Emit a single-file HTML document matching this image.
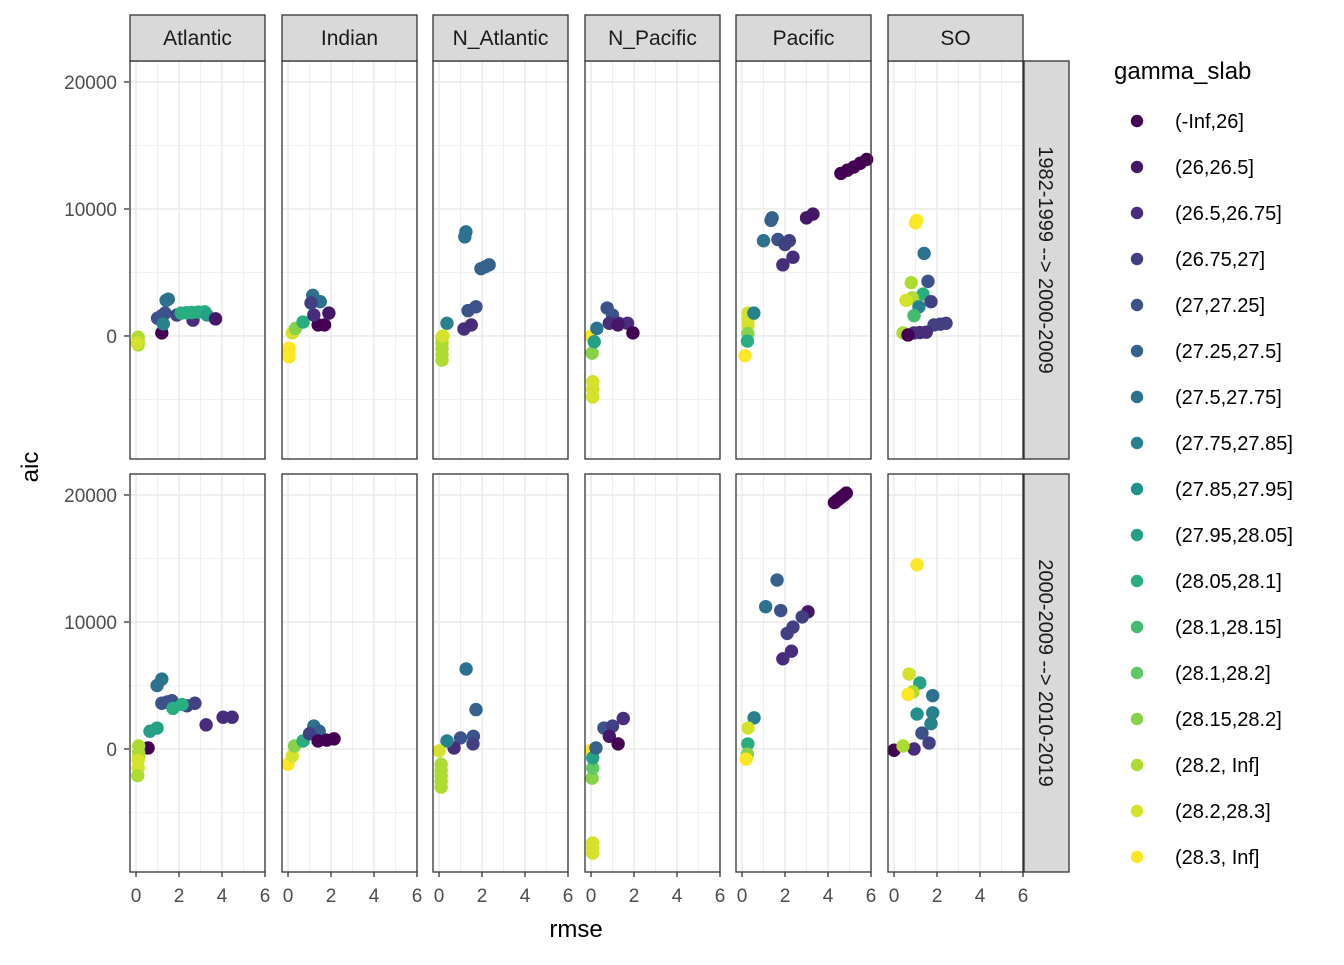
<!DOCTYPE html>
<html><head><meta charset="utf-8"><style>
html,body{margin:0;padding:0;background:#fff;}
svg text{font-family:"Liberation Sans",sans-serif;}
</style></head><body>
<svg id="chart" width="1344" height="960" xmlns="http://www.w3.org/2000/svg"></svg>
<script>
const basins = ["Atlantic","Indian","N_Atlantic","N_Pacific","Pacific","SO"];
const periods = ["1982-1999 --> 2000-2009","2000-2009 --> 2010-2019"];
const levels = ["(-Inf,26]","(26,26.5]","(26.5,26.75]","(26.75,27]","(27,27.25]","(27.25,27.5]","(27.5,27.75]","(27.75,27.85]","(27.85,27.95]","(27.95,28.05]","(28.05,28.1]","(28.1,28.15]","(28.1,28.2]","(28.15,28.2]","(28.2, Inf]","(28.2,28.3]","(28.3, Inf]"];
const xTicks = [0,2,4,6];
const yTicks = [0,10000,20000];
// points: [basinIndex, periodIndex, levelIndex, rmse, aic]
const points = [
[0,0,14,0.1,-100],[0,0,14,0.1,-400],[0,0,14,0.1,-700],[0,0,15,0.05,-550],[0,0,0,1.2,240],[0,0,6,1.5,2900],[0,0,6,1.4,2800],
[0,0,4,1.0,1400],[0,0,4,1.2,1600],[0,0,4,1.35,1800],[0,0,7,1.27,950],[0,0,3,1.9,1650],[0,0,2,2.65,1250],
[0,0,10,2.1,1800],[0,0,10,2.35,1830],[0,0,10,2.6,1850],[0,0,10,2.9,1880],[0,0,10,3.2,1900],[0,0,9,3.3,1650],[0,0,1,3.7,1350],
[1,0,16,0.05,-950],[1,0,16,0.05,-1300],[1,0,16,0.05,-1650],[1,0,15,0.2,240],[1,0,13,0.35,600],[1,0,10,0.7,1100],
[1,0,0,1.4,870],[1,0,0,1.7,870],[1,0,2,1.2,1650],[1,0,1,1.9,1800],[1,0,6,1.15,3200],[1,0,6,1.5,2700],[1,0,3,1.07,2600],
[2,0,6,1.25,8200],[2,0,6,1.2,7800],[2,0,5,1.95,5300],[2,0,5,2.15,5450],[2,0,5,2.33,5600],[2,0,4,1.35,2000],[2,0,4,1.72,2300],
[2,0,2,1.16,550],[2,0,2,1.5,870],[2,0,7,0.37,1000],[2,0,14,0.14,-100],[2,0,14,0.14,-550],[2,0,14,0.14,-1000],[2,0,14,0.14,-1450],[2,0,14,0.14,-1900],[2,0,15,0.18,0],
[3,0,16,0.0,0],[3,0,13,0.05,-1350],[3,0,15,0.08,-3600],[3,0,15,0.08,-4200],[3,0,15,0.08,-4800],[3,0,6,0.27,600],[3,0,9,0.15,-450],
[3,0,4,0.75,2200],[3,0,4,1.0,1650],[3,0,2,0.85,1000],[3,0,2,1.3,1000],[3,0,2,1.7,1000],[3,0,1,1.25,870],[3,0,0,1.95,240],
[4,0,0,4.6,12800],[4,0,0,4.9,13050],[4,0,0,5.2,13300],[4,0,0,5.5,13600],[4,0,0,5.8,13900],[4,0,1,3.0,9300],[4,0,1,3.3,9600],[4,0,5,1.35,9100],[4,0,5,1.4,9300],
[4,0,6,1.0,7500],[4,0,4,1.67,7600],[4,0,3,2.2,7500],[4,0,3,2.0,7200],[4,0,2,1.9,5600],[4,0,2,2.37,6200],
[4,0,15,0.28,1800],[4,0,15,0.28,1300],[4,0,15,0.28,870],[4,0,7,0.55,1800],[4,0,13,0.27,200],[4,0,10,0.25,-400],[4,0,16,0.14,-1550],
[5,0,16,1.0,8900],[5,0,16,1.05,9100],[5,0,6,1.4,6500],[5,0,14,0.8,4200],[5,0,4,1.58,4300],[5,0,10,1.35,3300],[5,0,3,1.72,2700],
[5,0,14,0.85,3000],[5,0,15,0.56,2800],[5,0,7,1.16,2300],[5,0,11,0.93,1600],[5,0,3,1.86,870],[5,0,3,2.15,930],[5,0,3,2.42,1000],
[5,0,2,0.93,240],[5,0,2,1.2,270],[5,0,2,1.5,300],[5,0,14,0.42,240],[5,0,0,0.65,80],
[0,1,6,1.2,5500],[0,1,6,0.98,5000],[0,1,4,1.2,3600],[0,1,4,1.45,3700],[0,1,4,1.67,3800],[0,1,3,2.74,3600],[0,1,3,2.37,3400],
[0,1,10,1.72,3200],[0,1,10,2.14,3500],[0,1,2,3.26,1900],[0,1,2,4.05,2500],[0,1,2,4.47,2500],[0,1,9,0.65,1400],[0,1,9,0.98,1650],
[0,1,0,0.56,80],[0,1,14,0.12,240],[0,1,14,0.12,-300],[0,1,14,0.12,-700],[0,1,15,0.1,-900],[0,1,15,0.1,-1500],[0,1,14,0.08,-2100],
[1,1,16,0.0,-1200],[1,1,15,0.2,-550],[1,1,13,0.3,240],[1,1,10,0.7,630],[1,1,6,1.2,1800],[1,1,5,1.45,1400],[1,1,3,1.0,1200],
[1,1,0,1.4,630],[1,1,0,1.8,700],[1,1,0,2.14,800],
[2,1,6,1.26,6300],[2,1,5,1.72,3100],[2,1,4,1.0,870],[2,1,4,1.6,1000],[2,1,3,1.58,400],[2,1,2,0.7,80],[2,1,7,0.37,630],
[2,1,15,0.0,-150],[2,1,14,0.1,-1200],[2,1,14,0.1,-1650],[2,1,14,0.1,-2100],[2,1,14,0.1,-2550],[2,1,14,0.1,-3000],
[3,1,16,0.0,-100],[3,1,15,0.08,-7400],[3,1,15,0.08,-7800],[3,1,15,0.08,-8200],[3,1,13,0.05,-2300],[3,1,12,0.08,-1500],[3,1,9,0.08,-700],
[3,1,5,0.23,80],[3,1,4,0.6,1650],[3,1,2,1.5,2400],[3,1,3,1.0,1800],[3,1,1,0.85,1000],[3,1,0,1.26,400],
[4,1,0,4.3,19400],[4,1,0,4.45,19600],[4,1,0,4.6,19800],[4,1,0,4.75,20000],[4,1,0,4.85,20150],[4,1,5,1.63,13300],[4,1,6,1.1,11200],[4,1,4,1.8,10900],
[4,1,1,3.07,10800],[4,1,3,2.8,10400],[4,1,3,2.37,9600],[4,1,3,2.1,9100],[4,1,2,2.3,7700],[4,1,2,1.9,7100],
[4,1,7,0.56,2450],[4,1,15,0.28,1650],[4,1,10,0.27,400],[4,1,13,0.25,-400],[4,1,16,0.19,-800],
[5,1,16,1.07,14500],[5,1,15,0.7,5900],[5,1,9,1.2,5200],[5,1,14,0.88,4500],[5,1,16,0.65,4300],[5,1,6,1.8,4200],
[5,1,8,1.07,2750],[5,1,7,1.8,2850],[5,1,7,1.72,2000],[5,1,4,1.3,1250],[5,1,3,1.63,470],[5,1,2,0.93,0],
[5,1,0,0.0,-100],[5,1,14,0.42,240]
];

const vir = ["#440154","#472d7b","#3b528b","#2c728e","#21918c","#28ae80","#5ec962","#addc30","#fde725"];
function hex2rgb(h){return [1,3,5].map(i=>parseInt(h.substr(i,2),16));}
function viridis(t){const s=t*(vir.length-1);const i=Math.min(Math.floor(s),vir.length-2);const f=s-i;
 const a=hex2rgb(vir[i]),b=hex2rgb(vir[i+1]);return "rgb("+a.map((v,k)=>Math.round(v+(b[k]-v)*f)).join(",")+")";}
const colors = levels.map((l,i)=>viridis(i/(levels.length-1)));

const NS="http://www.w3.org/2000/svg";
const svg=document.getElementById("chart");
function mk(tag,attrs,parent){const e=document.createElementNS(NS,tag);for(const k in attrs)e.setAttribute(k,attrs[k]);(parent||svg).appendChild(e);return e;}

const panelLefts=[130,282,433,585,736,888], panelW=135;
const panelTops=[61,474], panelH=398;
const xMin=-0.28, xMax=6.0, yMin=-9685, yMax=21650;
function sx(c,v){return panelLefts[c]+(v-xMin)/(xMax-xMin)*panelW;}
function sy(r,v){return panelTops[r]+panelH-(v-yMin)/(yMax-yMin)*panelH;}

for(let r=0;r<2;r++){for(let c=0;c<6;c++){
 const g=mk("g",{});
 
 
 const L=panelLefts[c],T=panelTops[r];
 mk("rect",{x:L,y:T,width:panelW,height:panelH,fill:"#fff"},g);
 [1,3,5].forEach(v=>mk("line",{x1:sx(c,v),x2:sx(c,v),y1:T,y2:T+panelH,stroke:"#ebebeb","stroke-width":0.8},g));
 [-5000,5000,15000].forEach(v=>mk("line",{x1:L,x2:L+panelW,y1:sy(r,v),y2:sy(r,v),stroke:"#ebebeb","stroke-width":0.8},g));
 xTicks.forEach(v=>mk("line",{x1:sx(c,v),x2:sx(c,v),y1:T,y2:T+panelH,stroke:"#ebebeb","stroke-width":1.6},g));
 yTicks.forEach(v=>mk("line",{x1:L,x2:L+panelW,y1:sy(r,v),y2:sy(r,v),stroke:"#ebebeb","stroke-width":1.6},g));
 points.filter(p=>p[0]===c&&p[1]===r).forEach(p=>{
  const d=mk("circle",{cx:sx(c,p[3]),cy:sy(r,p[4]),r:6.7,fill:colors[p[2]]},g);
  
  
 });
 mk("rect",{x:L,y:T,width:panelW,height:panelH,fill:"none",stroke:"#333","stroke-width":1.3},g);
}}
// top strips
basins.forEach((b,c)=>{
 const s=mk("rect",{x:panelLefts[c],y:15,width:panelW,height:46,fill:"#d9d9d9",stroke:"#333","stroke-width":1.3});
 
 
 const t=mk("text",{x:panelLefts[c]+panelW/2,y:45,"text-anchor":"middle","font-size":21,fill:"#1a1a1a"});
 t.textContent=b;
 
 
});
// right strips
periods.forEach((p,r)=>{
 const s=mk("rect",{x:1024,y:panelTops[r],width:45,height:panelH,fill:"#d9d9d9",stroke:"#333","stroke-width":1.3});
 
 
 const cx=1039,cy=panelTops[r]+panelH/2;
 const t=mk("text",{x:cx,y:cy,"text-anchor":"middle","font-size":20,fill:"#1a1a1a",transform:"rotate(90 "+cx+" "+cy+")"});
 t.textContent=p;
 
 
});
// y axes
for(let r=0;r<2;r++){yTicks.forEach(v=>{
 const y=sy(r,v);
 mk("line",{x1:124,x2:129,y1:y,y2:y,stroke:"#333","stroke-width":1.3});
 const t=mk("text",{x:117,y:y+7,"text-anchor":"end","font-size":19,fill:"#4d4d4d"});
 t.textContent=v;
 
 
});}
// x axes
for(let c=0;c<6;c++){xTicks.forEach(v=>{
 const x=sx(c,v);
 mk("line",{x1:x,x2:x,y1:872,y2:877,stroke:"#333","stroke-width":1.3});
 const t=mk("text",{x:x,y:902,"text-anchor":"middle","font-size":19,fill:"#4d4d4d"});
 t.textContent=v;
 
 
});}
let t=mk("text",{x:576,y:937,"text-anchor":"middle","font-size":24,fill:"#000"});t.textContent="rmse";


t=mk("text",{x:38,y:467,"text-anchor":"middle","font-size":24,fill:"#000",transform:"rotate(-90 38 467)"});t.textContent="aic";


// legend
t=mk("text",{x:1114,y:79,"font-size":24,fill:"#000"});t.textContent="gamma_slab";


levels.forEach((l,i)=>{
 const y=121+46*i;
 const g=mk("g",{});
 
 
 mk("circle",{cx:1137,cy:y,r:6.2,fill:colors[i]},g);
 const tx=mk("text",{x:1175,y:y+7,"font-size":20,fill:"#000"},g);tx.textContent=l;
});
</script>
</body></html>
